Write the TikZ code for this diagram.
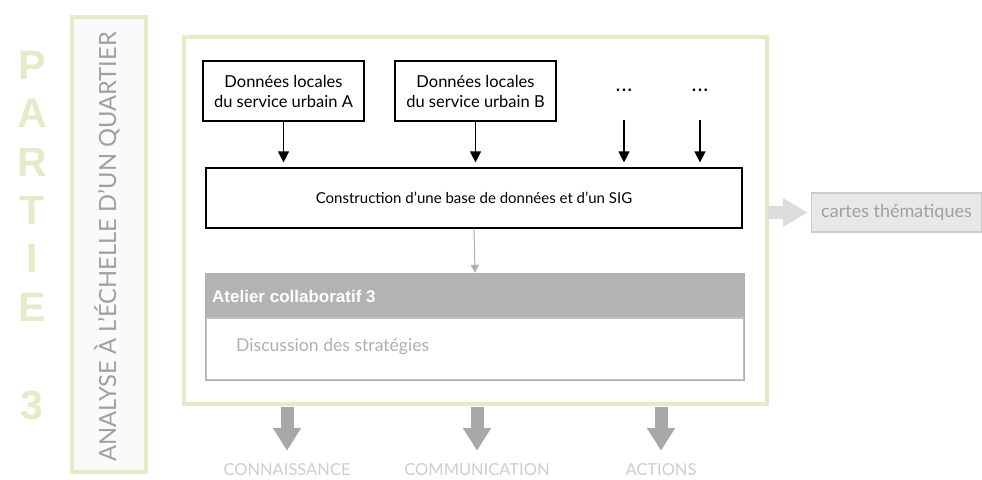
\documentclass[tikz,border=0pt]{standalone}
\usepackage{fontspec}
\setmainfont{Lato}
\newfontfamily\boldsans{Liberation Sans}
\usetikzlibrary{arrows.meta,calc}
\definecolor{pgreen}{RGB}{227,235,200}
\definecolor{lgfill}{RGB}{250,250,250}
\definecolor{txtgray}{RGB}{160,160,160}
\definecolor{lbltxt}{RGB}{205,205,205}
\definecolor{hdrgray}{RGB}{179,179,179}
\definecolor{bodygray}{RGB}{176,176,176}
\definecolor{dnarrow}{RGB}{168,168,168}
\definecolor{rtarrow}{RGB}{220,220,220}
\definecolor{cfill}{RGB}{232,232,232}
\definecolor{cdraw}{RGB}{204,204,204}
\begin{document}
\begin{tikzpicture}[x=1pt,y=-1pt,
  databox/.style={draw, line width=1.2pt, minimum width=161pt, minimum height=60pt, inner sep=0pt, align=center, font=\fontsize{16.5}{20}\selectfont},
  blackarrow/.style={line width=1.2pt, -{Triangle[length=11pt,width=11pt]}},
  fatdown/.style={line width=13pt, dnarrow, -{Triangle[length=23pt,width=27pt]}},
  fatright/.style={line width=13pt, rtarrow, -{Triangle[length=25pt,width=27pt]}},
  partie/.style={font=\boldsans\bfseries\fontsize{41}{41}\selectfont, text=pgreen, inner sep=0pt},
  dots/.style={font=\boldsans\bfseries\fontsize{16}{16}\selectfont, inner sep=0pt},
  downlbl/.style={font=\fontsize{16.5}{18}\selectfont, text=lbltxt, inner sep=0pt}
]
\useasboundingbox (0,0) rectangle (982,479);

% PARTIE 3
\node[partie] (p1) at (32,65) {P};
\node[partie] (p2) at (32,113) {A};
\node[partie] (p3) at (32,162) {R};
\node[partie] (p4) at (32,210) {T};
\node[partie] (p5) at (32,258) {I};
\node[partie] (p6) at (32,307) {E};
\node[partie] (p7) at (32,405) {3};

% left box
\node[draw=pgreen, fill=lgfill, line width=4pt, minimum width=74pt, minimum height=455pt, inner sep=0pt] (lbox) at (108.5,244) {};
\node[rotate=90, font=\fontsize{23.7}{24}\selectfont, text=txtgray, inner sep=0pt] (ltxt) at (107,247) {ANALYSE À L’ÉCHELLE D’UN QUARTIER};

% main green box
\node[draw=pgreen, line width=4pt, minimum width=583pt, minimum height=367pt, inner sep=0pt] (main) at (475.5,220.5) {};

% data boxes
\node[databox] (A) at (283.5,91) {Données locales\\du service urbain A};
\node[databox] (B) at (475.5,91) {Données locales\\du service urbain B};
\node[dots] (d1) at (624,90) {.\kern1.5pt.\kern1.5pt.};
\node[dots] (d2) at (700,90) {.\kern1.5pt.\kern1.5pt.};
\coordinate (c1) at (624,120);
\coordinate (c2) at (700,120);

% construction box
\node[draw, line width=1.2pt, minimum width=536pt, minimum height=60pt, inner sep=0pt, font=\fontsize{15}{18}\selectfont] (con) at (474,198) {Construction d’une base de données et d’un SIG};

\draw[blackarrow] (A.south) -- ([yshift=5pt]A.south |- con.north);
\draw[blackarrow] (B.south) -- ([yshift=5pt]B.south |- con.north);
\draw[blackarrow] (c1) -- ([yshift=5pt]c1 |- con.north);
\draw[blackarrow] (c2) -- ([yshift=5pt]c2 |- con.north);

% atelier
\node[fill=hdrgray, minimum width=538pt, minimum height=44pt, inner sep=0pt] (hdr) at (475,296) {};
\node[anchor=west, font=\boldsans\bfseries\fontsize{17}{18}\selectfont, text=white, inner sep=0pt] (hdrtxt) at (212,296) {Atelier collaboratif 3};
\node[draw=bodygray!80, fill=white, line width=1.2pt, minimum width=538pt, minimum height=62pt, inner sep=0pt] (body) at (475,349) {};
\node[anchor=west, font=\fontsize{17.6}{18}\selectfont, text=bodygray, inner sep=0pt] (bodytxt) at (236,347) {Discussion des stratégies};
\draw[draw=bodygray, line width=1.2pt] (hdr.north west) rectangle (body.south east);

\draw[line width=1pt, bodygray, -{Triangle[length=8pt,width=8pt]}] (con.south) -- ([yshift=1pt]hdr.north);

% cartes thematiques
\node[draw=cdraw, fill=cfill, line width=1.2pt, minimum width=170pt, minimum height=39pt, inner sep=0pt, font=\fontsize{18}{18}\selectfont, text=txtgray] (cartes) at (896.5,212.5) {cartes thématiques};
\draw[fatright] ([xshift=-1pt]main.east |- cartes.west) -- ([xshift=-3pt]cartes.west);

% bottom labels
\node[downlbl] (k1) at (287,470) {CONNAISSANCE};
\node[downlbl] (k2) at (477,470) {COMMUNICATION};
\node[downlbl] (k3) at (661,470) {ACTIONS};
\draw[fatdown] ([yshift=-1pt]main.south -| k1) -- ([yshift=13pt]k1.north);
\draw[fatdown] ([yshift=-1pt]main.south -| k2) -- ([yshift=13pt]k2.north);
\draw[fatdown] ([yshift=-1pt]main.south -| k3) -- ([yshift=13pt]k3.north);
\end{tikzpicture}
\end{document}
